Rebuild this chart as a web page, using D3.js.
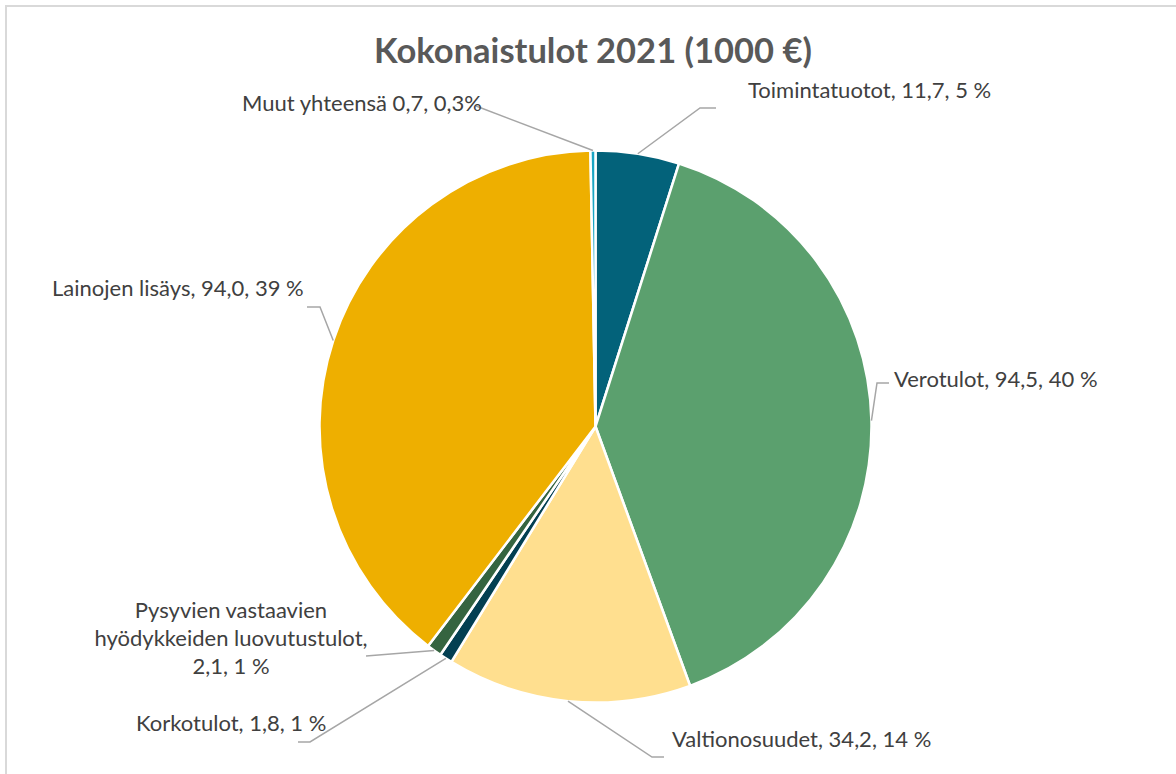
<!DOCTYPE html>
<html>
<head>
<meta charset="utf-8">
<script src="https://cdn.jsdelivr.net/npm/d3@7"></script>
<style>
  body { margin: 0; background: #fff; }
  svg { display: block; }
</style>
</head>
<body>
<svg id="pie" width="1176" height="774"></svg>
<script>
// data
const categories = ["Toimintatuotot", "Verotulot", "Valtionosuudet", "Korkotulot",
    "Pysyvien vastaavien hyödykkeiden luovutustulot", "Lainojen lisäys", "Muut yhteensä"];
const values = [11.7, 94.5, 34.2, 1.8, 2.1, 94.0, 0.7];
const percentLabels = ["5 %", "40 %", "14 %", "1 %", "1 %", "39 %", "0,3%"];
const colors = ["#03627a", "#5ba06e", "#ffdf8f", "#033f52", "#356440", "#eeaf00", "#1aa6c4"];

// label layout: text lines, anchor, position, leader bend/end
const labelLayout = [
    { lines: ["Toimintatuotot, 11,7, 5 %"], anchor: "start", x: 748, y: 98, leader: [[700, 108], [716, 108]] },
    { lines: ["Verotulot, 94,5, 40 %"], anchor: "start", x: 894, y: 387, leader: [[877, 383], [889, 383]] },
    { lines: ["Valtionosuudet, 34,2, 14 %"], anchor: "start", x: 672, y: 747, leader: [[652, 757], [664, 757]] },
    { lines: ["Korkotulot, 1,8, 1 %"], anchor: "start", x: 136, y: 731, leader: [[310, 742], [298, 742]] },
    { lines: ["Pysyvien vastaavien", "hyödykkeiden luovutustulot,", "2,1, 1 %"], anchor: "middle", x: 231, y: 618, leader: [[366, 656]] },
    { lines: ["Lainojen lisäys, 94,0, 39 %"], anchor: "start", x: 52, y: 296, leader: [[320, 307], [307, 307]] },
    { lines: ["Muut yhteensä 0,7, 0,3%"], anchor: "start", x: 242, y: 111, leader: [[476, 106]] }
];

const svg = d3.select("#pie");
const width = 1176, height = 774;
const cx = 595.5, cy = 426.5, radius = 276;

// chart frame
svg.append("rect")
    .attr("x", 6).attr("y", 6)
    .attr("width", width + 20).attr("height", height + 20)
    .attr("fill", "none")
    .attr("stroke", "#d9d9d9")
    .attr("stroke-width", 2);

svg.append("text")
    .attr("x", 593).attr("y", 63)
    .attr("text-anchor", "middle")
    .style("font", "bold 34.5px Lato, 'Open Sans', sans-serif")
    .attr("fill", "#595959")
    .text("Kokonaistulot 2021 (1000 €)");

const pie = d3.pie().sort(null).value(d => d)(values);
const arc = d3.arc().innerRadius(0).outerRadius(radius);
const edge = d3.arc().innerRadius(radius).outerRadius(radius);

const g = svg.append("g").attr("transform", `translate(${cx},${cy})`);

g.selectAll("path.slice")
    .data(pie)
    .enter().append("path")
    .attr("class", "slice")
    .attr("d", arc)
    .attr("fill", (d, i) => colors[i])
    .attr("stroke", "#fff")
    .attr("stroke-width", 2.5)
    .attr("stroke-linejoin", "round");

// leader lines from slice edge
const line = d3.line();
svg.selectAll("path.leader")
    .data(pie)
    .enter().append("path")
    .attr("class", "leader")
    .attr("d", (d, i) => {
        const c = edge.centroid(d);
        return line([[cx + c[0], cy + c[1]], ...labelLayout[i].leader]);
    })
    .attr("fill", "none")
    .attr("stroke", "#a6a6a6")
    .attr("stroke-width", 1.5);

const labels = svg.selectAll("text.lbl")
    .data(labelLayout)
    .enter().append("text")
    .attr("class", "lbl")
    .attr("x", d => d.x)
    .attr("y", d => d.y)
    .attr("text-anchor", d => d.anchor)
    .style("font", "22px Lato, 'Open Sans', sans-serif")
    .attr("fill", "#404040");

labels.selectAll("tspan")
    .data(d => d.lines.map(t => ({ t, x: d.x })))
    .enter().append("tspan")
    .attr("x", d => d.x)
    .attr("dy", (d, i) => i === 0 ? 0 : 28)
    .text(d => d.t);
</script>
</body>
</html>
